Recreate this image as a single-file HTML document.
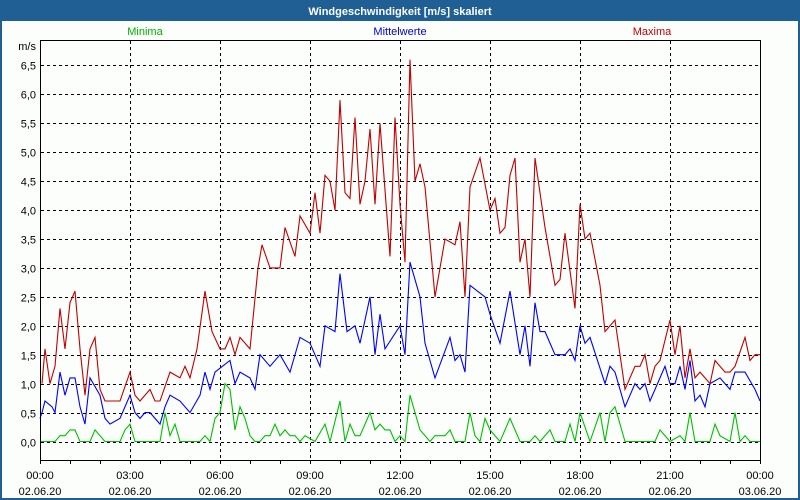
<!DOCTYPE html>
<html><head><meta charset="utf-8">
<style>
html,body{margin:0;padding:0;background:#1f5f93;}
#wrap{position:relative;width:800px;height:500px;}
svg{display:block;font-family:"Liberation Sans",sans-serif;}
</style></head>
<body>
<div id="wrap">
<svg id="chart" width="800" height="500" xmlns="http://www.w3.org/2000/svg">
<rect x="0" y="0" width="800" height="500" fill="#1f5f93"/>
<rect x="2" y="21" width="796" height="477" fill="#fcfefc"/>
<text x="400" y="15" text-anchor="middle" fill="#ffffff" font-size="11" font-weight="bold">Windgeschwindigkeit [m/s] skaliert</text>
<text x="145" y="35" text-anchor="middle" fill="#00b000" font-size="11">Minima</text>
<text x="400" y="35" text-anchor="middle" fill="#0000d0" font-size="11">Mittelwerte</text>
<text x="652" y="35" text-anchor="middle" fill="#c00000" font-size="11">Maxima</text>
<text x="36" y="50" text-anchor="end" fill="#000" font-size="11">m/s</text>
<g id="grid"></g>
<g id="series"></g>
<rect x="40.5" y="40.5" width="720" height="420" fill="none" stroke="#000" stroke-width="1"/>
<g id="xaxis"></g>
</svg>
</div>
<script>
const yTicks = [0,0.5,1,1.5,2,2.5,3,3.5,4,4.5,5,5.5,6,6.5];
const xTickLabels = ["00:00","03:00","06:00","09:00","12:00","15:00","18:00","21:00","00:00"];
const xDateLabels = ["02.06.20","02.06.20","02.06.20","02.06.20","02.06.20","02.06.20","02.06.20","02.06.20","03.06.20"];
// time in minutes since 00:00
const maxTimes = [4,10,20,30,40,50,60,70,80,90,100,110,120,130,140,160,180,190,200,220,230,240,260,280,290,300,314,330,344,360,370,380,390,400,420,436,444,460,480,490,510,520,540,550,560,570,580,590,600,610,620,630,640,650,660,670,680,700,710,720,730,740,750,760,770,790,810,830,840,850,860,880,900,910,920,930,940,950,960,970,980,990,1010,1030,1040,1050,1070,1080,1090,1100,1120,1130,1150,1170,1190,1200,1210,1220,1230,1240,1260,1270,1280,1290,1300,1310,1320,1340,1350,1370,1380,1390,1410,1420,1430,1440];
const maxValues = [1.0,1.6,1.0,1.3,2.3,1.6,2.4,2.6,1.6,0.8,1.6,1.8,0.9,0.7,0.7,0.7,1.2,0.8,0.7,0.9,0.7,0.7,1.2,1.1,1.3,1.1,1.6,2.6,1.9,1.6,1.6,1.8,1.5,1.8,1.6,3.0,3.4,3.0,3.0,3.7,3.2,3.9,3.6,4.3,3.6,4.6,4.5,4.0,5.9,4.3,4.2,5.6,4.1,4.5,5.4,4.1,5.5,3.2,5.6,4.1,3.1,6.6,4.5,4.8,4.4,2.5,3.5,3.4,3.8,2.5,4.4,4.9,4.0,4.2,3.6,3.7,4.6,4.9,3.1,3.5,2.5,4.9,3.7,2.7,2.8,3.6,2.3,4.1,3.5,3.6,2.7,1.9,2.1,0.9,1.3,1.3,1.5,1.0,1.3,1.4,2.1,1.5,2.0,1.1,1.6,1.1,1.2,1.0,1.4,1.2,1.2,1.3,1.8,1.4,1.5,1.5];
const avgTimes = [0,4,10,24,30,40,50,60,70,80,90,100,120,130,140,160,180,190,200,210,220,240,250,260,280,300,320,330,340,350,380,390,400,420,430,440,460,480,500,520,540,560,570,590,600,614,630,640,660,670,680,690,720,730,740,760,770,790,820,830,840,850,860,890,900,920,940,960,970,980,990,1000,1010,1030,1050,1060,1070,1080,1090,1100,1130,1140,1150,1170,1190,1200,1210,1220,1250,1260,1270,1280,1290,1300,1310,1320,1330,1340,1360,1380,1390,1410,1430,1440];
const avgValues = [0.4,0.5,0.7,0.6,0.5,1.2,0.8,1.1,1.1,0.6,0.3,1.1,0.8,0.4,0.3,0.4,0.8,0.5,0.4,0.5,0.5,0.3,0.6,0.8,0.7,0.5,0.8,1.2,0.9,1.2,1.4,1.0,1.2,1.1,0.9,1.5,1.3,1.5,1.2,1.8,1.7,1.3,2.0,1.9,2.9,1.9,2.0,1.7,2.5,1.5,2.2,1.6,2.0,1.5,3.1,2.5,1.7,1.1,1.8,1.4,1.5,1.2,2.7,2.5,2.2,1.7,2.6,1.5,2.0,1.3,2.4,1.9,1.9,1.5,1.5,1.6,1.4,2.0,1.7,1.8,1.0,1.3,1.2,0.6,1.0,0.9,1.0,0.7,1.3,1.0,1.0,1.3,0.9,1.4,0.7,0.8,0.6,1.0,1.1,0.9,1.2,1.2,0.9,0.7];
const minTimes = [0,30,40,50,60,70,80,100,110,130,160,170,180,190,240,250,260,270,280,320,330,340,350,360,370,380,390,400,410,420,430,440,450,460,470,480,490,500,510,520,530,550,570,580,600,610,620,630,640,660,670,680,690,700,710,720,730,740,760,780,790,810,820,830,850,860,870,880,890,900,920,940,950,960,980,990,1000,1020,1030,1050,1060,1070,1080,1100,1120,1130,1140,1150,1170,1230,1240,1260,1280,1290,1300,1310,1340,1350,1360,1380,1390,1400,1410,1420,1440];
const minValues = [0,0,0.1,0.1,0.2,0.2,0,0,0.2,0,0,0.2,0.3,0,0,0.5,0.1,0.3,0,0,0.1,0,0.4,0.5,1.0,0.9,0.2,0.6,0.4,0.1,0,0,0.1,0.1,0.3,0.1,0.2,0.1,0.1,0,0.1,0,0.3,0,0.7,0,0.3,0.1,0.1,0.5,0.2,0.3,0.2,0.2,0,0.1,0,0.8,0.2,0,0.1,0.1,0.2,0,0,0.5,0.1,0,0.4,0.2,0,0.4,0.2,0,0,0.1,0,0.2,0,0,0.3,0,0.5,0,0.5,0,0.5,0.6,0,0,0.2,0,0.1,0,0.5,0,0,0.3,0.1,0,0.5,0,0.1,0,0];

const NS = "http://www.w3.org/2000/svg";
const X0 = 40, X1 = 760, Y0 = 441.5, PER = 57.85;
function xScale(min){ return X0 + (X1 - X0) * min / 1440; }
function yScale(v){ return Y0 - v * PER; }

const grid = document.getElementById('grid');
yTicks.forEach(function(t){
  const y = Math.round(yScale(t)) + 0.5;
  const l = document.createElementNS(NS,'line');
  l.setAttribute('x1',41); l.setAttribute('x2',760); l.setAttribute('y1',y); l.setAttribute('y2',y);
  l.setAttribute('stroke','#000'); l.setAttribute('stroke-dasharray','3,3');
  
  
  grid.appendChild(l);
  const tx = document.createElementNS(NS,'text');
  tx.setAttribute('x',36); tx.setAttribute('y',y+4); tx.setAttribute('text-anchor','end');
  tx.setAttribute('font-size','11');
  tx.textContent = t.toFixed(1).replace('.',',');
  
  
  grid.appendChild(tx);
});
xTickLabels.forEach(function(lbl,i){
  const x = Math.round(xScale(i*180)) + 0.5;
  if(i>0 && i<xTickLabels.length-1){
    const l = document.createElementNS(NS,'line');
    l.setAttribute('x1',x); l.setAttribute('x2',x); l.setAttribute('y1',41); l.setAttribute('y2',460);
    l.setAttribute('stroke','#000'); l.setAttribute('stroke-dasharray','3,3');
    
    
    grid.appendChild(l);
  }
});
const xaxis = document.getElementById('xaxis');
for(let h=0; h<=24; h++){
  const x = Math.round(xScale(h*60)) + 0.5;
  const l = document.createElementNS(NS,'line');
  l.setAttribute('x1',x); l.setAttribute('x2',x); l.setAttribute('y1',461); l.setAttribute('y2',464);
  l.setAttribute('stroke','#000');
  
  
  xaxis.appendChild(l);
}
xTickLabels.forEach(function(lbl,i){
  const x = xScale(i*180);
  const t1 = document.createElementNS(NS,'text');
  t1.setAttribute('x',x); t1.setAttribute('y',479); t1.setAttribute('text-anchor','middle'); t1.setAttribute('font-size','11');
  t1.textContent = lbl;
  
  
  xaxis.appendChild(t1);
  const t2 = document.createElementNS(NS,'text');
  t2.setAttribute('x',x); t2.setAttribute('y',495); t2.setAttribute('text-anchor','middle'); t2.setAttribute('font-size','11');
  t2.textContent = xDateLabels[i];
  
  
  xaxis.appendChild(t2);
});
const series = document.getElementById('series');
function drawLine(times, vals, color, name){
  const n = Math.min(times.length, vals.length);
  const pts = [];
  for(let i=0;i<n;i++){ pts.push(xScale(times[i]).toFixed(1)+','+yScale(vals[i]).toFixed(1)); }
  const p = document.createElementNS(NS,'polyline');
  p.setAttribute('points',pts.join(' ')); p.setAttribute('fill','none'); p.setAttribute('stroke',color); p.setAttribute('stroke-width','1.1');
  
  
  series.appendChild(p);
}
drawLine(minTimes, minValues, '#00c000', 'minima-line');
drawLine(avgTimes, avgValues, '#0000ff', 'mittelwerte-line');
drawLine(maxTimes, maxValues, '#c00000', 'maxima-line');
</script>
</body></html>
